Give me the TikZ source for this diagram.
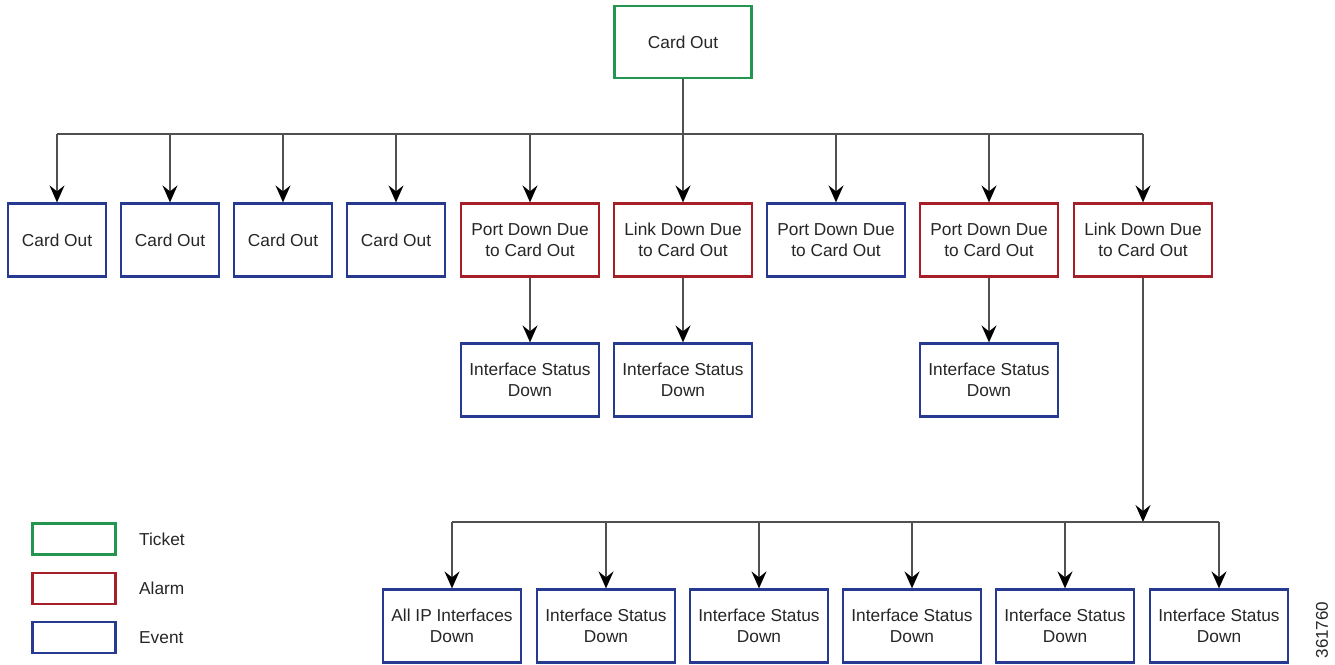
\documentclass[tikz,border=0pt]{standalone}
\usepackage{fontspec}
\setmainfont{Liberation Sans}
\usetikzlibrary{arrows.meta}
\definecolor{tgreen}{RGB}{34,150,78}
\definecolor{ared}{RGB}{165,30,40}
\definecolor{eblue}{RGB}{38,58,145}
\definecolor{lgray}{RGB}{80,80,80}
\begin{document}
\begin{tikzpicture}[x=1pt,y=-1pt,
  base/.style={draw,line width=2.2pt,fill=white,align=center,inner sep=0pt,
    font=\fontsize{17.3}{21}\selectfont,text=black!85},
  ticket/.style={base,draw=tgreen,minimum width=137pt,minimum height=72pt},
  alarm/.style={base,draw=ared,minimum width=138pt,minimum height=73pt},
  event/.style={base,draw=eblue,minimum width=138pt,minimum height=73pt},
  small/.style={minimum width=98pt},
  lg/.style={line width=2.2pt,minimum width=83pt,minimum height=31pt,inner sep=0pt},
  conn/.style={draw=lgray,line width=1.8pt},
  arr/.style={conn,-{Stealth[length=17pt,width=15pt,inset=6pt,color=black,fill=black]}},
  lab/.style={font=\fontsize{17.3}{21}\selectfont,text=black!85,anchor=west,inner sep=0pt}]
\useasboundingbox (0,0) rectangle (1335,664);
% top
\node[ticket] (top) at (683,42) {Card Out};
% row 1
\node[event,small] (c1) at (57,240) {Card Out};
\node[event,small] (c2) at (170,240) {Card Out};
\node[event,small] (c3) at (283,240) {Card Out};
\node[event,small] (c4) at (396,240) {Card Out};
\node[alarm] (p1) at (530,240) {Port Down Due\\to Card Out};
\node[alarm] (l1) at (683,240) {Link Down Due\\to Card Out};
\node[event] (p2) at (836,240) {Port Down Due\\to Card Out};
\node[alarm] (p3) at (989,240) {Port Down Due\\to Card Out};
\node[alarm] (l2) at (1143,240) {Link Down Due\\to Card Out};
% row 2
\node[event] (i1) at (530,380) {Interface Status\\Down};
\node[event] (i2) at (683,380) {Interface Status\\Down};
\node[event] (i3) at (989,380) {Interface Status\\Down};
% row 3
\node[event] (b1) at (452,626) {All IP Interfaces\\Down};
\node[event] (b2) at (606,626) {Interface Status\\Down};
\node[event] (b3) at (759,626) {Interface Status\\Down};
\node[event] (b4) at (912,626) {Interface Status\\Down};
\node[event] (b5) at (1065,626) {Interface Status\\Down};
\node[event] (b6) at (1219,626) {Interface Status\\Down};
% bus 1
\coordinate (j1) at (683,134);
\draw[conn] (top.south) -- (j1);
\draw[conn] (c1.north |- j1) -- (l2.north |- j1);
\foreach \n in {c1,c2,c3,c4,p1,l1,p2,p3,l2}
  \draw[arr] (\n.north |- j1) -- (\n.north);
\draw[arr] (p1.south) -- (i1.north);
\draw[arr] (l1.south) -- (i2.north);
\draw[arr] (p3.south) -- (i3.north);
% bus 2
\coordinate (j2) at (1143,522);
\draw[arr] (l2.south) -- (j2);
\draw[conn] (b1.north |- j2) -- (b6.north |- j2);
\foreach \n in {b1,b2,b3,b4,b5,b6}
  \draw[arr] (\n.north |- j2) -- (\n.north);
% legend
\node[lg,draw=tgreen] (lt) at (74,539) {};
\node[lg,draw=ared] (la) at (74,588.5) {};
\node[lg,draw=eblue] (le) at (74,637.5) {};
\node[lab] (tt) at (139,539) {Ticket};
\node[lab] (ta) at (139,588.5) {Alarm};
\node[lab] (te) at (139,637.5) {Event};
\node[font=\fontsize{17}{19}\selectfont,rotate=90,inner sep=0pt,text=black!85] (id) at (1322,630) {361760};
\end{tikzpicture}
\end{document}
